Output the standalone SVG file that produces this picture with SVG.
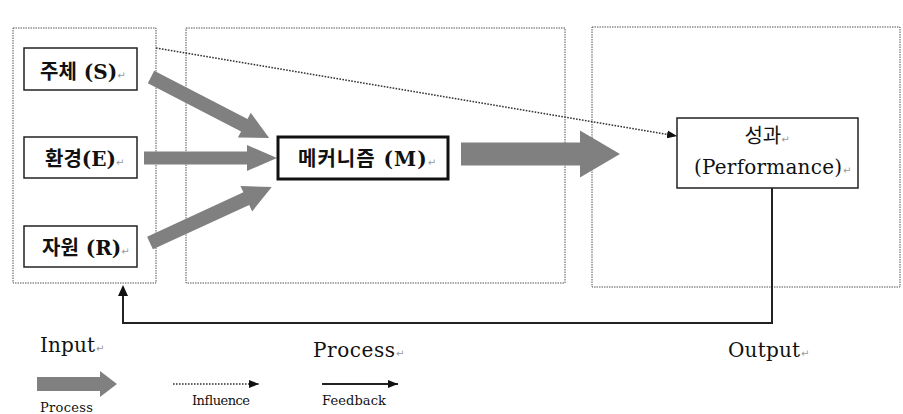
<svg xmlns="http://www.w3.org/2000/svg" width="903" height="414" viewBox="0 0 903 414">
<style>
.frame{fill:none;stroke:#555;stroke-width:1;stroke-dasharray:1.5 1}
.node{fill:#fff;stroke:#222;stroke-width:1.5}
.thick{fill:#fff;stroke:#111;stroke-width:3}
.ko{font-family:"DejaVu Serif","Noto Sans CJK KR",serif;font-size:20px;font-weight:bold;fill:#111}
.lat{font-family:"DejaVu Serif","Noto Sans CJK KR",serif;fill:#111}
.pm{font-family:"DejaVu Sans",sans-serif;font-size:10px;font-weight:normal;fill:#999}
.big{fill:#808080}
.infl{fill:none;stroke:#333;stroke-width:1.6;stroke-dasharray:1.6 1.4}
.fb{fill:none;stroke:#222;stroke-width:2}
</style>
<defs>
<marker id="ah" markerWidth="10" markerHeight="8" refX="10" refY="4" orient="auto" markerUnits="userSpaceOnUse">
<path d="M0,0 L10,4 L0,8 Z" fill="#111"/>
</marker>
</defs>

<g id="frames">
<rect class="frame" x="13" y="28" width="143" height="255"/>
<rect class="frame" x="186" y="28" width="379" height="255"/>
<rect class="frame" x="592" y="27" width="308" height="260"/>
</g>

<g id="connectors">
<path class="big" transform="translate(151,77) rotate(27.3)" d="M0,-7 L105,-7 L105,-14 L133,0 L105,14 L105,7 L0,7 Z"/>
<path class="big" transform="translate(144,158)" d="M0,-6.5 L103,-6.5 L103,-13 L133,0 L103,13 L103,6.5 L0,6.5 Z"/>
<path class="big" transform="translate(150,243) rotate(-24.7)" d="M0,-7 L106,-7 L106,-14 L134,0 L106,14 L106,7 L0,7 Z"/>
<path class="big" transform="translate(461,154)" d="M0,-11.5 L119,-11.5 L119,-23.5 L159,0 L119,23.5 L119,11.5 L0,11.5 Z"/>
<line class="infl" x1="156" y1="48" x2="677" y2="136" marker-end="url(#ah)"/>
<polyline class="fb" points="772,188 772,323 123,323 123,294"/>
<path d="M123,285 L118,296 L128,296 Z" fill="#111"/>
</g>

<g id="node-s">
<rect class="node" x="24" y="48" width="113" height="42"/>
<text class="ko" x="40" y="79">주체 (S)<tspan class="pm">↵</tspan></text>
</g>
<g id="node-e">
<rect class="node" x="24" y="137" width="113" height="41"/>
<text class="ko" x="45" y="166">환경(E)<tspan class="pm">↵</tspan></text>
</g>
<g id="node-r">
<rect class="node" x="24" y="226" width="113" height="41"/>
<text class="ko" x="42" y="255">자원 (R)<tspan class="pm">↵</tspan></text>
</g>
<g id="node-m">
<rect class="thick" x="278" y="137" width="170" height="42"/>
<text class="ko" x="298" y="166" letter-spacing="1">메커니즘 (M)<tspan class="pm" letter-spacing="0">↵</tspan></text>
</g>
<g id="node-p">
<rect class="node" x="677" y="118" width="181" height="70"/>
<text class="lat" x="767" y="143" font-size="20" text-anchor="middle" font-family="Noto Sans CJK KR, sans-serif">성과<tspan class="pm">↵</tspan></text>
<text class="lat" x="694" y="174" font-size="20" textLength="148" lengthAdjust="spacing">(Performance)</text>
<text class="pm" x="843" y="174">↵</text>
</g>

<g id="legend">
<text class="lat" x="40" y="352" font-size="20" textLength="55" lengthAdjust="spacing">Input</text>
<text class="pm" x="96" y="352">↵</text>
<text class="lat" x="313" y="357" font-size="20" textLength="82" lengthAdjust="spacing">Process</text>
<text class="pm" x="396" y="357">↵</text>
<text class="lat" x="728" y="357" font-size="20" textLength="72" lengthAdjust="spacing">Output</text>
<text class="pm" x="801" y="357">↵</text>
<path class="big" transform="translate(37,384)" d="M0,-7 L63,-7 L63,-13 L80,0 L63,13 L63,7 L0,7 Z"/>
<line class="infl" x1="173" y1="384" x2="259" y2="384" marker-end="url(#ah)"/>
<line class="fb" x1="322" y1="384" x2="398" y2="384" marker-end="url(#ah)"/>
<text class="lat" x="40" y="412" font-size="13" textLength="53" lengthAdjust="spacing">Process</text>
<text class="lat" x="192" y="405" font-size="13" textLength="58" lengthAdjust="spacing">Influence</text>
<text class="lat" x="322" y="405" font-size="13" textLength="64" lengthAdjust="spacing">Feedback</text>
</g>
</svg>
